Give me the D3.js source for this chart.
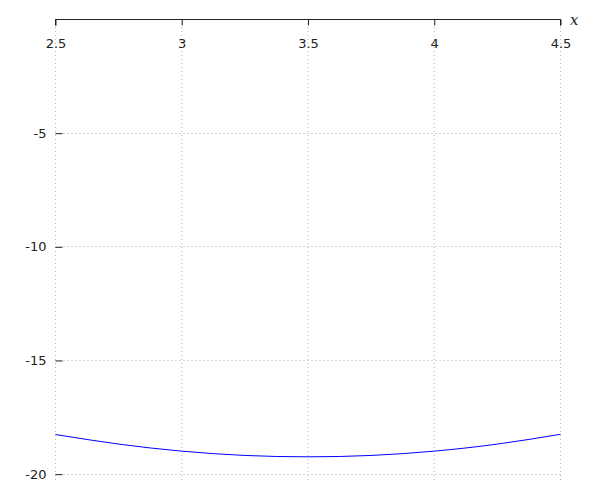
<!DOCTYPE html>
<html>
<head>
<meta charset="utf-8">
<script src="https://cdn.jsdelivr.net/npm/d3@7"></script>
<style>
  body { margin: 0; background: #fff; }
  svg text { font-family: "DejaVu Sans", sans-serif; font-size: 13px; fill: #222; }
</style>
</head>
<body>
<div id="chart"></div>
<script>
// values
var xs = [2.5, 2.75, 3, 3.25, 3.5, 3.75, 4, 4.25, 4.5]
var ys = [-18.28, -18.70, -19.01, -19.20, -19.26, -19.20, -19.01, -18.70, -18.27]
var xTicks = [2.5, 3, 3.5, 4, 4.5]
var yTicks = [-5, -10, -15, -20]

var width = 600, height = 500

var svg = d3.select("#chart").append("svg")
    .attr("width", width)
    .attr("height", height)

var x = d3.scaleLinear().domain([2.5, 4.5]).range([55.5, 560.5])
var y = d3.scaleLinear().domain([0, -20.28]).range([19, 480])

// grid
svg.append("g").selectAll("line")
    .data(xTicks)
  .enter().append("line")
    .attr("x1", d => x(d)).attr("x2", d => x(d))
    .attr("y1", y(0)).attr("y2", y(-20.28))
    .attr("stroke", "#b4b4b4")
    .attr("stroke-dasharray", "1,3")
svg.append("g").selectAll("line")
    .data(yTicks)
  .enter().append("line")
    .attr("x1", x(2.5)).attr("x2", x(4.5))
    .attr("y1", d => Math.round(y(d)) + 0.5).attr("y2", d => Math.round(y(d)) + 0.5)
    .attr("stroke", "#b4b4b4")
    .attr("stroke-dasharray", "1,3")

// x axis on top, ticks pointing in, labels below
var xAxis = svg.append("g")
    .attr("transform", "translate(0," + (Math.round(y(0)) + 0.5) + ")")
    .call(d3.axisBottom(x).tickValues(xTicks).tickSize(6).tickPadding(13)
            .tickFormat(d => String(d)))
xAxis.select(".domain").attr("stroke", "#222").attr("d", "M" + x(2.5) + ",6V0H" + x(4.5) + "V6")
xAxis.selectAll("line").attr("stroke", "#222")
xAxis.selectAll("text").style("font-size", "13px").attr("fill", "#222")

// y axis: ticks only, no line
var yAxis = svg.append("g")
    .attr("transform", "translate(" + x(2.5) + ",0.5)")
    .call(d3.axisRight(y).tickValues(yTicks).tickSize(7).tickPadding(0)
            .tickFormat(d => String(d)))
yAxis.select(".domain").remove()
yAxis.selectAll("line").attr("stroke", "#222")
yAxis.selectAll("text")
    .attr("x", -9)
    .attr("text-anchor", "end")
    .style("font-size", "13px")
    .attr("fill", "#222")

// axis name
svg.append("text")
    .attr("x", 570).attr("y", 25)
    .style("font-family", "'DejaVu Serif', serif")
    .style("font-style", "italic")
    .style("font-size", "15px")
    .text("x")

// curve
var line = d3.line()
    .x((d, i) => x(xs[i]))
    .y(d => y(d))
    .curve(d3.curveNatural)
svg.append("path")
    .datum(ys)
    .attr("fill", "none")
    .attr("stroke", "#0000ff")
    .attr("stroke-width", 1)
    .attr("d", line)
</script>
</body>
</html>
